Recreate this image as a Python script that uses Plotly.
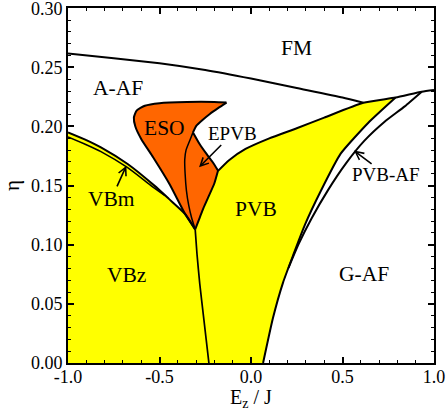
import plotly.graph_objects as go

# ---------------- data ----------------
# FM / A-AF boundary
fm_aaf_x = [-1.0, -0.75, -0.5, -0.25, 0.0, 0.25, 0.5, 0.614]
fm_aaf_y = [0.2617, 0.2577, 0.2535, 0.2478, 0.2405, 0.2325, 0.2245, 0.2200]

# upper PVB boundary (A-AF / PVB), continuing as FM / PVB-AF / G-AF boundary
top_x = [-0.18, -0.12, -0.03, 0.10, 0.25, 0.40, 0.614, 0.79, 0.933, 1.0]
top_y = [0.1625, 0.1715, 0.181, 0.190, 0.1985, 0.2075, 0.2200, 0.2245, 0.2294, 0.2309]

# A-AF / VBm boundary (upper line of VBm strip) down to the cusp
vbm_up_x = [-1.0, -0.9, -0.82, -0.674, -0.528, -0.45, -0.36, -0.305]
vbm_up_y = [0.195, 0.1885, 0.1824, 0.1683, 0.150, 0.139, 0.126, 0.113]

# VBm / VBz boundary (lower line of VBm strip)
vbm_lo_x = [-1.0, -0.9, -0.82, -0.674, -0.55, -0.47]
vbm_lo_y = [0.1912, 0.1846, 0.1788, 0.1652, 0.1505, 0.1415]

# ESO + EPVB outer boundary (closed, starting at the cusp)
eso_x = [-0.305, -0.36, -0.444, -0.535, -0.60, -0.632, -0.64, -0.625, -0.58, -0.50, -0.35, -0.20,
         -0.134, -0.18, -0.225, -0.265, -0.298, -0.317, -0.28, -0.243, -0.21, -0.18,
         -0.20, -0.234, -0.26, -0.28, -0.305]
eso_y = [0.113, 0.126, 0.151, 0.174, 0.1895, 0.200, 0.2075, 0.2135, 0.2175, 0.2197, 0.2207, 0.2207,
         0.2202, 0.2155, 0.2106, 0.2055, 0.2007, 0.195, 0.185, 0.1768, 0.170, 0.1627,
         0.152, 0.140, 0.131, 0.123, 0.113]

# ESO / EPVB boundary
epvb_x = [-0.317, -0.335, -0.355, -0.362, -0.36, -0.353, -0.34, -0.325, -0.305]
epvb_y = [0.195, 0.188, 0.180, 0.172, 0.160, 0.146, 0.133, 0.123, 0.113]

# VBz / PVB boundary
vbz_pvb_x = [-0.305, -0.295, -0.28, -0.26, -0.245, -0.23]
vbz_pvb_y = [0.113, 0.092, 0.067, 0.040, 0.020, 0.0]

# PVB / PVB-AF boundary (right edge of PVB), bottom to top
pvb_r_x = [0.066, 0.12, 0.175, 0.23, 0.295, 0.38, 0.49, 0.64, 0.79]
pvb_r_y = [0.0, 0.038, 0.068, 0.091, 0.117, 0.145, 0.177, 0.203, 0.2245]

# PVB-AF / G-AF boundary
pvbaf_x = [0.205, 0.26, 0.33, 0.42, 0.52, 0.62, 0.73, 0.84, 0.933]
pvbaf_y = [0.0805, 0.1005, 0.122, 0.146, 0.169, 0.188, 0.204, 0.217, 0.2294]

# phase labels (plain)
lab_text = ["FM", "A-AF", "ESO", "PVB", "VBz", "G-AF"]
lab_x = [0.249, -0.727, -0.471, 0.03, -0.681, 0.617]
lab_y = [0.266, 0.2326, 0.1988, 0.1303, 0.0748, 0.0754]

# phase labels with arrows: label centre and arrow tip
arr_text = ["VBm", "EPVB", "PVB-AF"]
arr_size = [21.5, 19, 19]
arr_lab_x = [-0.763, -0.103, 0.738]
arr_lab_y = [0.1388, 0.1937, 0.159]
arr_tip_x = [-0.681, -0.284, 0.563]
arr_tip_y = [0.1669, 0.1655, 0.1796]

x_ticks = [-1.0, -0.5, 0.0, 0.5, 1.0]
x_ticktext = ["-1.0", "-0.5", "0.0", "0.5", "1.0"]
y_ticks = [0.0, 0.05, 0.10, 0.15, 0.20, 0.25, 0.30]
y_ticktext = ["0.00", "0.05", "0.10", "0.15", "0.20", "0.25", "0.30"]

YELLOW = "#FFFF00"
ORANGE = "#FF6600"
FONT = "Liberation Serif"

fig = go.Figure()

# yellow region (VBz + VBm + PVB)
pvb_left_x = list(reversed(eso_x[21:27]))[1:]
pvb_left_y = list(reversed(eso_y[21:27]))[1:]
yx = [-1.0] + vbm_up_x + pvb_left_x + top_x[:8] + list(reversed(pvb_r_x))[1:] + [-1.0]
yy = [0.0] + vbm_up_y + pvb_left_y + top_y[:8] + list(reversed(pvb_r_y))[1:] + [0.0]
fig.add_trace(go.Scatter(x=yx, y=yy, fill="toself", fillcolor=YELLOW, mode="none",
                         hoverinfo="skip", showlegend=False))
# orange region (ESO + EPVB)
fig.add_trace(go.Scatter(x=eso_x, y=eso_y, fill="toself", fillcolor=ORANGE, mode="none",
                         hoverinfo="skip", showlegend=False))

def line(xs, ys, w=2.0):
    fig.add_trace(go.Scatter(x=xs, y=ys, mode="lines",
                             line=dict(color="black", width=w, shape="spline", smoothing=0.5),
                             hoverinfo="skip", showlegend=False))

line(fm_aaf_x, fm_aaf_y, 2.0)
line(top_x, top_y, 2.0)
line(vbm_up_x, vbm_up_y, 2.0)
line(vbm_lo_x, vbm_lo_y, 1.5)
line(eso_x[:13], eso_y[:13], 2.0)
line(eso_x[12:18], eso_y[12:18], 2.0)
line(eso_x[17:22], eso_y[17:22], 2.0)
line(eso_x[21:], eso_y[21:], 2.0)
line(epvb_x, epvb_y, 1.5)
line(vbz_pvb_x, vbz_pvb_y, 1.7)
line(pvb_r_x, pvb_r_y, 2.0)
line(pvbaf_x, pvbaf_y, 2.0)

annotations = []
for t, x, y in zip(lab_text, lab_x, lab_y):
    annotations.append(dict(x=x, y=y, text=t, showarrow=False, xref="x", yref="y",
                            font=dict(family=FONT, size=21.5, color="black")))
for t, s, lx, ly, hx, hy in zip(arr_text, arr_size, arr_lab_x, arr_lab_y, arr_tip_x, arr_tip_y):
    annotations.append(dict(x=hx, y=hy, ax=lx, ay=ly, xref="x", yref="y", axref="x", ayref="y",
                            text=t, font=dict(family=FONT, size=s, color="black"),
                            showarrow=True, arrowhead=5, arrowsize=1.0, arrowwidth=1.6,
                            arrowcolor="black", borderpad=0))

axis_common = dict(showgrid=False, zeroline=False, showline=True, linecolor="black", linewidth=2,
                   mirror="ticks", ticks="inside", tickcolor="black", tickwidth=1.5, ticklen=6,
                   ticklabeloverflow="allow", automargin=False,
                   tickfont=dict(family=FONT, size=18, color="black"))

fig.update_layout(
    width=447, height=411,
    margin=dict(l=68, r=13, t=8, b=48, autoexpand=False),
    plot_bgcolor="white", paper_bgcolor="white",
    annotations=annotations,
    xaxis=dict(range=[-1, 1], tickvals=x_ticks, ticktext=x_ticktext, ticklabelstandoff=-4,
               minor=dict(dtick=0.1, ticks="inside", ticklen=3, tickcolor="black", tickwidth=1),
               title=dict(text="E<sub>z</sub> / J", font=dict(family=FONT, size=20, color="black"), standoff=0),
               **axis_common),
    yaxis=dict(range=[0, 0.3002], tickvals=y_ticks, ticktext=y_ticktext,
               minor=dict(dtick=0.01, ticks="inside", ticklen=3, tickcolor="black", tickwidth=1),
               title=dict(text="η", font=dict(family=FONT, size=21, color="black"), standoff=12),
               **axis_common),
)

fig.write_html("out.html", config={"displayModeBar": False},
               post_script="document.body.style.margin='0';document.body.style.padding='0';")
